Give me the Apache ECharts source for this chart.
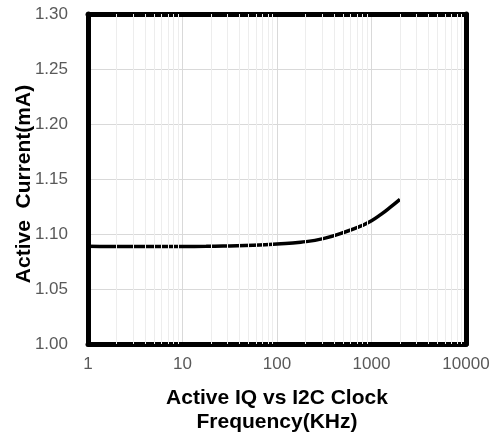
<!DOCTYPE html>
<html>
<head>
<meta charset="utf-8">
<script src="https://cdn.jsdelivr.net/npm/echarts@6/dist/echarts.min.js"></script>
<style>
html,body{margin:0;padding:0;background:#ffffff;}
#chart{width:496px;height:438px;}
</style>
</head>
<body>
<div id="chart"></div>
<script>
// ---- data ----
const freqKHz = [1, 1.78, 3.16, 5.62, 10, 17.8, 31.6, 56.2, 100, 178, 316, 562, 794, 1000, 1260, 1585, 2000];
const activeCurrentMA = [1.0888, 1.0886, 1.0886, 1.0886, 1.0887, 1.0888, 1.0892, 1.0898, 1.0909, 1.0925, 1.0960, 1.1027, 1.1077, 1.1120, 1.1178, 1.1244, 1.1315];
const xTickLabels = [1, 10, 100, 1000, 10000];
const yTickLabels = [1.00, 1.05, 1.10, 1.15, 1.20, 1.25, 1.30];
const minorGridFreqs = [2, 3, 4, 5, 6, 7, 8, 9,
  20, 30, 40, 50, 60, 70, 80, 90,
  200, 300, 400, 500, 600, 700, 800, 900,
  2000, 3000, 4000, 5000, 6000, 7000, 8000, 9000];
const xAxisTitle = 'Active IQ vs I2C Clock\nFrequency(KHz)';
const yAxisTitle = 'Active  Current(mA)';

const FONT = "'Liberation Sans', Arial, sans-serif";
const chart = echarts.init(document.getElementById('chart'), null, {renderer: 'canvas'});

const borderLine = {show: true, lineStyle: {color: '#000000', width: 5, cap: 'round'}};

chart.setOption({
  animation: false,
  backgroundColor: '#ffffff',
  grid: {left: 88, right: 30, top: 14, bottom: 94, containLabel: false, outerBoundsMode: 'none'},
  xAxis: [{
    type: 'log',
    logBase: 10,
    min: xTickLabels[0],
    max: xTickLabels[xTickLabels.length - 1],
    position: 'bottom',
    name: xAxisTitle,
    nameLocation: 'middle',
    nameGap: 42,
    nameMoveOverlap: false,
    nameTextStyle: {fontFamily: FONT, fontSize: 21, fontWeight: 'bold', color: '#000000', lineHeight: 24},
    axisLine: borderLine,
    axisTick: {show: false},
    axisLabel: {
      fontFamily: FONT, fontSize: 17, color: '#595959', margin: 12,
      formatter: function (v) { return String(Math.round(v)); }
    },
    splitLine: {show: true, lineStyle: {color: '#d9d9d9', width: 1}}
  }, {
    type: 'log',
    logBase: 10,
    min: xTickLabels[0],
    max: xTickLabels[xTickLabels.length - 1],
    position: 'top',
    axisLine: borderLine,
    axisTick: {show: false},
    axisLabel: {show: false},
    splitLine: {show: false}
  }],
  yAxis: [{
    type: 'value',
    min: yTickLabels[0],
    max: yTickLabels[yTickLabels.length - 1],
    interval: 0.05,
    position: 'left',
    name: yAxisTitle,
    nameLocation: 'middle',
    nameGap: 53,
    nameMoveOverlap: false,
    nameTextStyle: {fontFamily: FONT, fontSize: 21, fontWeight: 'bold', color: '#000000', padding: [0, 10, 0, 0]},
    axisLine: borderLine,
    axisTick: {show: false},
    axisLabel: {
      fontFamily: FONT, fontSize: 17, color: '#595959', margin: 20,
      formatter: function (v) { return v.toFixed(2); }
    },
    splitLine: {show: true, lineStyle: {color: '#d9d9d9', width: 1}}
  }, {
    type: 'value',
    min: yTickLabels[0],
    max: yTickLabels[yTickLabels.length - 1],
    interval: 0.05,
    position: 'right',
    axisLine: borderLine,
    axisTick: {show: false},
    axisLabel: {show: false},
    splitLine: {show: false}
  }],
  series: [{
    type: 'line',
    name: 'minor grid',
    xAxisIndex: 0,
    yAxisIndex: 0,
    data: [],
    z: 1,
    silent: true,
    markLine: {
      silent: true,
      symbol: ['none', 'none'],
      label: {show: false},
      lineStyle: {color: '#ededed', width: 1, type: 'solid'},
      emphasis: {disabled: true},
      data: minorGridFreqs.map(function (f) { return {xAxis: f}; })
    }
  }, {
    type: 'line',
    name: 'Active IQ',
    xAxisIndex: 0,
    yAxisIndex: 0,
    data: freqKHz.map(function (f, i) { return [f, activeCurrentMA[i]]; }),
    smooth: 0.5,
    showSymbol: false,
    symbol: 'none',
    z: 3,
    lineStyle: {color: '#000000', width: 3.5}
  }]
});
</script>
</body>
</html>
